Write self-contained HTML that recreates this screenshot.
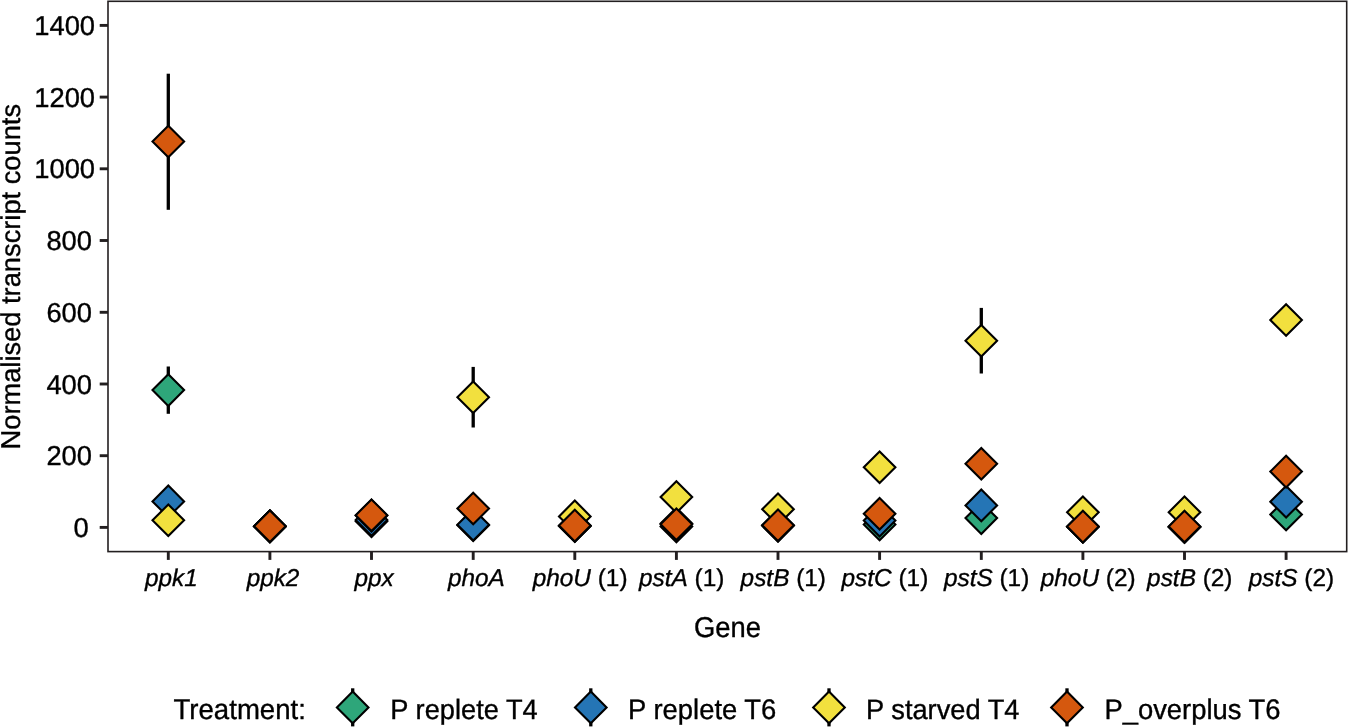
<!DOCTYPE html>
<html><head><meta charset="utf-8"><title>Normalised transcript counts by gene</title>
<style>html,body{margin:0;padding:0;background:#fff}svg{display:block}text{font-family:"Liberation Sans",sans-serif;fill:#000;stroke:#000;stroke-width:0.35px;stroke-linejoin:round;text-rendering:geometricPrecision}</style></head>
<body>
<svg width="1348" height="727" viewBox="0 0 1348 727">
<rect width="1348" height="727" fill="#fff"/>
<rect x="108.0" y="1.3" width="1238.7" height="550.3000000000001" fill="none" stroke="#231f20" stroke-width="1.6"/>
<line x1="99.7" x2="108.0" y1="527.4" y2="527.4" stroke="#231f20" stroke-width="2.9"/>
<text x="88.7" y="536.9" font-size="27.35" text-anchor="end">0</text>
<line x1="99.7" x2="108.0" y1="455.7" y2="455.7" stroke="#231f20" stroke-width="2.9"/>
<text x="92.0" y="465.2" font-size="27.35" text-anchor="end">200</text>
<line x1="99.7" x2="108.0" y1="384.0" y2="384.0" stroke="#231f20" stroke-width="2.9"/>
<text x="92.0" y="393.5" font-size="27.35" text-anchor="end">400</text>
<line x1="99.7" x2="108.0" y1="312.3" y2="312.3" stroke="#231f20" stroke-width="2.9"/>
<text x="92.0" y="321.8" font-size="27.35" text-anchor="end">600</text>
<line x1="99.7" x2="108.0" y1="240.5" y2="240.5" stroke="#231f20" stroke-width="2.9"/>
<text x="92.0" y="250.0" font-size="27.35" text-anchor="end">800</text>
<line x1="99.7" x2="108.0" y1="168.8" y2="168.8" stroke="#231f20" stroke-width="2.9"/>
<text x="95.1" y="178.3" font-size="27.35" text-anchor="end">1000</text>
<line x1="99.7" x2="108.0" y1="97.1" y2="97.1" stroke="#231f20" stroke-width="2.9"/>
<text x="95.1" y="106.6" font-size="27.35" text-anchor="end">1200</text>
<line x1="99.7" x2="108.0" y1="25.4" y2="25.4" stroke="#231f20" stroke-width="2.9"/>
<text x="95.1" y="34.9" font-size="27.35" text-anchor="end">1400</text>
<line x1="168.3" x2="168.3" y1="551.6" y2="559.9" stroke="#231f20" stroke-width="2.9"/>
<text x="171.4" y="585.6" font-size="24.3" text-anchor="middle"><tspan font-style="italic">ppk1</tspan></text>
<line x1="269.9" x2="269.9" y1="551.6" y2="559.9" stroke="#231f20" stroke-width="2.9"/>
<text x="273.0" y="585.6" font-size="24.3" text-anchor="middle"><tspan font-style="italic">ppk2</tspan></text>
<line x1="371.5" x2="371.5" y1="551.6" y2="559.9" stroke="#231f20" stroke-width="2.9"/>
<text x="374.1" y="585.6" font-size="24.3" text-anchor="middle"><tspan font-style="italic">ppx</tspan></text>
<line x1="473.2" x2="473.2" y1="551.6" y2="559.9" stroke="#231f20" stroke-width="2.9"/>
<text x="476.3" y="585.6" font-size="24.3" text-anchor="middle"><tspan font-style="italic">phoA</tspan></text>
<line x1="574.8" x2="574.8" y1="551.6" y2="559.9" stroke="#231f20" stroke-width="2.9"/>
<text x="580.1" y="585.6" font-size="24.4" text-anchor="middle"><tspan font-style="italic">phoU</tspan> (1)</text>
<line x1="676.4" x2="676.4" y1="551.6" y2="559.9" stroke="#231f20" stroke-width="2.9"/>
<text x="681.7" y="585.6" font-size="24.4" text-anchor="middle"><tspan font-style="italic">pstA</tspan> (1)</text>
<line x1="778.0" x2="778.0" y1="551.6" y2="559.9" stroke="#231f20" stroke-width="2.9"/>
<text x="783.3" y="585.6" font-size="24.4" text-anchor="middle"><tspan font-style="italic">pstB</tspan> (1)</text>
<line x1="879.6" x2="879.6" y1="551.6" y2="559.9" stroke="#231f20" stroke-width="2.9"/>
<text x="884.9" y="585.6" font-size="24.4" text-anchor="middle"><tspan font-style="italic">pstC</tspan> (1)</text>
<line x1="981.3" x2="981.3" y1="551.6" y2="559.9" stroke="#231f20" stroke-width="2.9"/>
<text x="986.6" y="585.6" font-size="24.4" text-anchor="middle"><tspan font-style="italic">pstS</tspan> (1)</text>
<line x1="1082.9" x2="1082.9" y1="551.6" y2="559.9" stroke="#231f20" stroke-width="2.9"/>
<text x="1088.2" y="585.6" font-size="24.4" text-anchor="middle"><tspan font-style="italic">phoU</tspan> (2)</text>
<line x1="1184.5" x2="1184.5" y1="551.6" y2="559.9" stroke="#231f20" stroke-width="2.9"/>
<text x="1189.8" y="585.6" font-size="24.4" text-anchor="middle"><tspan font-style="italic">pstB</tspan> (2)</text>
<line x1="1286.1" x2="1286.1" y1="551.6" y2="559.9" stroke="#231f20" stroke-width="2.9"/>
<text x="1291.4" y="585.6" font-size="24.4" text-anchor="middle"><tspan font-style="italic">pstS</tspan> (2)</text>
<text transform="translate(727.4,636.9) scale(1,1.05)" font-size="27.35" text-anchor="middle">Gene</text>
<text transform="translate(20.4,276.7) rotate(-90)" font-size="27.28" text-anchor="middle">Normalised transcript counts</text>
<line x1="168.3" x2="168.3" y1="366.5" y2="413.8" stroke="#000" stroke-width="3.3"/>
<path d="M168.3 374.3L184.1 390.1L168.3 405.9L152.5 390.1Z" fill="#2EA67A" stroke="#000" stroke-width="2.1" stroke-linejoin="miter"/>
<path d="M269.9 510.6L285.7 526.4L269.9 542.2L254.1 526.4Z" fill="#2EA67A" stroke="#000" stroke-width="2.1" stroke-linejoin="miter"/>
<path d="M371.5 505.5L387.3 521.3L371.5 537.1L355.7 521.3Z" fill="#2EA67A" stroke="#000" stroke-width="2.1" stroke-linejoin="miter"/>
<path d="M473.2 509.5L489.0 525.3L473.2 541.1L457.4 525.3Z" fill="#2EA67A" stroke="#000" stroke-width="2.1" stroke-linejoin="miter"/>
<path d="M574.8 510.2L590.6 526.0L574.8 541.8L559.0 526.0Z" fill="#2EA67A" stroke="#000" stroke-width="2.1" stroke-linejoin="miter"/>
<path d="M676.4 510.6L692.2 526.4L676.4 542.2L660.6 526.4Z" fill="#2EA67A" stroke="#000" stroke-width="2.1" stroke-linejoin="miter"/>
<path d="M778.0 509.8L793.8 525.6L778.0 541.4L762.2 525.6Z" fill="#2EA67A" stroke="#000" stroke-width="2.1" stroke-linejoin="miter"/>
<path d="M879.6 508.7L895.4 524.5L879.6 540.3L863.8 524.5Z" fill="#2EA67A" stroke="#000" stroke-width="2.1" stroke-linejoin="miter"/>
<path d="M981.3 502.3L997.1 518.1L981.3 533.9L965.5 518.1Z" fill="#2EA67A" stroke="#000" stroke-width="2.1" stroke-linejoin="miter"/>
<path d="M1082.9 511.0L1098.7 526.8L1082.9 542.6L1067.1 526.8Z" fill="#2EA67A" stroke="#000" stroke-width="2.1" stroke-linejoin="miter"/>
<path d="M1184.5 511.2L1200.3 527.0L1184.5 542.8L1168.7 527.0Z" fill="#2EA67A" stroke="#000" stroke-width="2.1" stroke-linejoin="miter"/>
<path d="M1286.1 498.7L1301.9 514.5L1286.1 530.3L1270.3 514.5Z" fill="#2EA67A" stroke="#000" stroke-width="2.1" stroke-linejoin="miter"/>
<path d="M168.3 485.6L184.1 501.4L168.3 517.2L152.5 501.4Z" fill="#2575B5" stroke="#000" stroke-width="2.1" stroke-linejoin="miter"/>
<path d="M269.9 510.6L285.7 526.4L269.9 542.2L254.1 526.4Z" fill="#2575B5" stroke="#000" stroke-width="2.1" stroke-linejoin="miter"/>
<path d="M371.5 504.1L387.3 519.9L371.5 535.7L355.7 519.9Z" fill="#2575B5" stroke="#000" stroke-width="2.1" stroke-linejoin="miter"/>
<path d="M473.2 509.0L489.0 524.8L473.2 540.6L457.4 524.8Z" fill="#2575B5" stroke="#000" stroke-width="2.1" stroke-linejoin="miter"/>
<path d="M574.8 510.2L590.6 526.0L574.8 541.8L559.0 526.0Z" fill="#2575B5" stroke="#000" stroke-width="2.1" stroke-linejoin="miter"/>
<path d="M676.4 507.8L692.2 523.6L676.4 539.4L660.6 523.6Z" fill="#2575B5" stroke="#000" stroke-width="2.1" stroke-linejoin="miter"/>
<path d="M778.0 509.8L793.8 525.6L778.0 541.4L762.2 525.6Z" fill="#2575B5" stroke="#000" stroke-width="2.1" stroke-linejoin="miter"/>
<path d="M879.6 504.8L895.4 520.6L879.6 536.4L863.8 520.6Z" fill="#2575B5" stroke="#000" stroke-width="2.1" stroke-linejoin="miter"/>
<path d="M981.3 489.6L997.1 505.4L981.3 521.2L965.5 505.4Z" fill="#2575B5" stroke="#000" stroke-width="2.1" stroke-linejoin="miter"/>
<path d="M1082.9 511.0L1098.7 526.8L1082.9 542.6L1067.1 526.8Z" fill="#2575B5" stroke="#000" stroke-width="2.1" stroke-linejoin="miter"/>
<path d="M1184.5 511.2L1200.3 527.0L1184.5 542.8L1168.7 527.0Z" fill="#2575B5" stroke="#000" stroke-width="2.1" stroke-linejoin="miter"/>
<path d="M1286.1 485.9L1301.9 501.7L1286.1 517.5L1270.3 501.7Z" fill="#2575B5" stroke="#000" stroke-width="2.1" stroke-linejoin="miter"/>
<path d="M168.3 504.5L184.1 520.3L168.3 536.1L152.5 520.3Z" fill="#F2E03E" stroke="#000" stroke-width="2.1" stroke-linejoin="miter"/>
<path d="M269.9 510.5L285.7 526.3L269.9 542.1L254.1 526.3Z" fill="#F2E03E" stroke="#000" stroke-width="2.1" stroke-linejoin="miter"/>
<path d="M371.5 499.8L387.3 515.6L371.5 531.4L355.7 515.6Z" fill="#F2E03E" stroke="#000" stroke-width="2.1" stroke-linejoin="miter"/>
<line x1="473.2" x2="473.2" y1="366.9" y2="427.5" stroke="#000" stroke-width="3.3"/>
<path d="M473.2 381.4L489.0 397.2L473.2 413.0L457.4 397.2Z" fill="#F2E03E" stroke="#000" stroke-width="2.1" stroke-linejoin="miter"/>
<path d="M574.8 500.6L590.6 516.4L574.8 532.2L559.0 516.4Z" fill="#F2E03E" stroke="#000" stroke-width="2.1" stroke-linejoin="miter"/>
<path d="M676.4 481.2L692.2 497.0L676.4 512.8L660.6 497.0Z" fill="#F2E03E" stroke="#000" stroke-width="2.1" stroke-linejoin="miter"/>
<path d="M778.0 493.5L793.8 509.3L778.0 525.1L762.2 509.3Z" fill="#F2E03E" stroke="#000" stroke-width="2.1" stroke-linejoin="miter"/>
<path d="M879.6 451.5L895.4 467.3L879.6 483.1L863.8 467.3Z" fill="#F2E03E" stroke="#000" stroke-width="2.1" stroke-linejoin="miter"/>
<line x1="981.3" x2="981.3" y1="307.9" y2="373.5" stroke="#000" stroke-width="3.3"/>
<path d="M981.3 324.9L997.1 340.7L981.3 356.5L965.5 340.7Z" fill="#F2E03E" stroke="#000" stroke-width="2.1" stroke-linejoin="miter"/>
<path d="M1082.9 496.5L1098.7 512.3L1082.9 528.1L1067.1 512.3Z" fill="#F2E03E" stroke="#000" stroke-width="2.1" stroke-linejoin="miter"/>
<path d="M1184.5 496.5L1200.3 512.3L1184.5 528.1L1168.7 512.3Z" fill="#F2E03E" stroke="#000" stroke-width="2.1" stroke-linejoin="miter"/>
<path d="M1286.1 304.2L1301.9 320.0L1286.1 335.8L1270.3 320.0Z" fill="#F2E03E" stroke="#000" stroke-width="2.1" stroke-linejoin="miter"/>
<line x1="168.3" x2="168.3" y1="73.7" y2="209.8" stroke="#000" stroke-width="3.3"/>
<path d="M168.3 125.7L184.1 141.5L168.3 157.3L152.5 141.5Z" fill="#D5580E" stroke="#000" stroke-width="2.1" stroke-linejoin="miter"/>
<path d="M269.9 510.4L285.7 526.2L269.9 542.0L254.1 526.2Z" fill="#D5580E" stroke="#000" stroke-width="2.1" stroke-linejoin="miter"/>
<path d="M371.5 499.4L387.3 515.2L371.5 531.0L355.7 515.2Z" fill="#D5580E" stroke="#000" stroke-width="2.1" stroke-linejoin="miter"/>
<path d="M473.2 492.7L489.0 508.5L473.2 524.3L457.4 508.5Z" fill="#D5580E" stroke="#000" stroke-width="2.1" stroke-linejoin="miter"/>
<path d="M574.8 509.8L590.6 525.6L574.8 541.4L559.0 525.6Z" fill="#D5580E" stroke="#000" stroke-width="2.1" stroke-linejoin="miter"/>
<path d="M676.4 508.5L692.2 524.3L676.4 540.1L660.6 524.3Z" fill="#D5580E" stroke="#000" stroke-width="2.1" stroke-linejoin="miter"/>
<path d="M778.0 509.5L793.8 525.3L778.0 541.1L762.2 525.3Z" fill="#D5580E" stroke="#000" stroke-width="2.1" stroke-linejoin="miter"/>
<path d="M879.6 498.0L895.4 513.8L879.6 529.6L863.8 513.8Z" fill="#D5580E" stroke="#000" stroke-width="2.1" stroke-linejoin="miter"/>
<path d="M981.3 447.9L997.1 463.7L981.3 479.5L965.5 463.7Z" fill="#D5580E" stroke="#000" stroke-width="2.1" stroke-linejoin="miter"/>
<path d="M1082.9 510.8L1098.7 526.6L1082.9 542.4L1067.1 526.6Z" fill="#D5580E" stroke="#000" stroke-width="2.1" stroke-linejoin="miter"/>
<path d="M1184.5 510.7L1200.3 526.5L1184.5 542.3L1168.7 526.5Z" fill="#D5580E" stroke="#000" stroke-width="2.1" stroke-linejoin="miter"/>
<path d="M1286.1 455.8L1301.9 471.6L1286.1 487.4L1270.3 471.6Z" fill="#D5580E" stroke="#000" stroke-width="2.1" stroke-linejoin="miter"/>
<text transform="translate(173.5,719.3) scale(1,1.03)" font-size="27.6">Treatment:</text>
<line x1="352.7" x2="352.7" y1="688.3" y2="726.4" stroke="#000" stroke-width="3.3"/>
<path d="M352.7 691.6L368.5 707.4L352.7 723.2L336.9 707.4Z" fill="#2EA67A" stroke="#000" stroke-width="2.1" stroke-linejoin="miter"/>
<text transform="translate(390.3,719.3) scale(1,1.03)" font-size="27.25">P replete T4</text>
<line x1="590.8" x2="590.8" y1="688.3" y2="726.4" stroke="#000" stroke-width="3.3"/>
<path d="M590.8 691.6L606.6 707.4L590.8 723.2L575.0 707.4Z" fill="#2575B5" stroke="#000" stroke-width="2.1" stroke-linejoin="miter"/>
<text transform="translate(628.1,719.3) scale(1,1.03)" font-size="27.4">P replete T6</text>
<line x1="829" x2="829" y1="688.3" y2="726.4" stroke="#000" stroke-width="3.3"/>
<path d="M829.0 691.6L844.8 707.4L829.0 723.2L813.2 707.4Z" fill="#F2E03E" stroke="#000" stroke-width="2.1" stroke-linejoin="miter"/>
<text transform="translate(866,719.3) scale(1,1.03)" font-size="27.25">P starved T4</text>
<line x1="1067" x2="1067" y1="688.3" y2="726.4" stroke="#000" stroke-width="3.3"/>
<path d="M1067.0 691.6L1082.8 707.4L1067.0 723.2L1051.2 707.4Z" fill="#D5580E" stroke="#000" stroke-width="2.1" stroke-linejoin="miter"/>
<text transform="translate(1104.4,719.3) scale(1,1.03)" font-size="27.4">P_overplus T6</text>
</svg>
</body></html>
